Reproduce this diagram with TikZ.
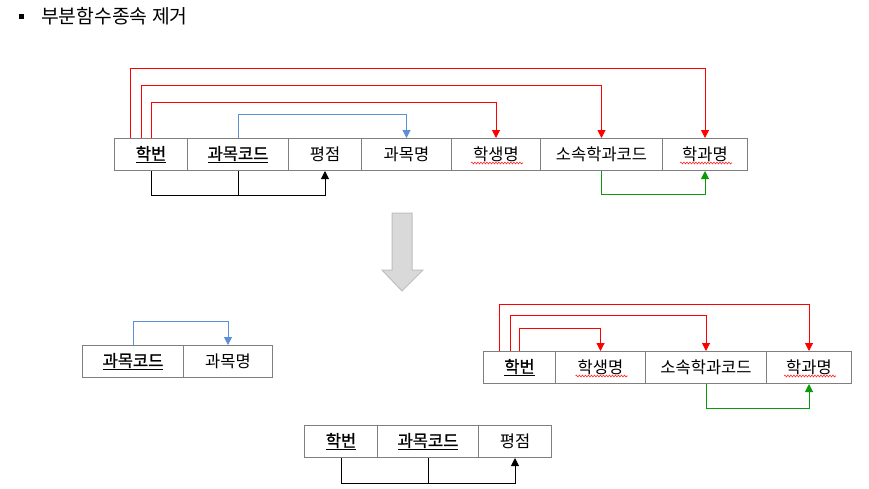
\documentclass[tikz,border=0pt]{standalone}
\usepackage{fontspec}
\setmainfont{Noto Sans CJK KR}
\newfontfamily\keyfont[FakeBold=1.3]{Noto Sans CJK KR}
\usetikzlibrary{arrows.meta,calc,decorations.pathmorphing}
\definecolor{cellgray}{HTML}{7F7F7F}
\definecolor{bluel}{HTML}{5B8FD6}
\definecolor{greenl}{HTML}{0A9A0A}
\definecolor{arrowfill}{HTML}{D9D9D9}
\definecolor{arrowdraw}{HTML}{BFBFBF}
\tikzset{
  cell/.style={draw=cellgray, line width=1pt, inner sep=0pt, anchor=north west,
    minimum height=32pt, font=\fontsize{16.5}{19}\selectfont, text=black},
  tip/.style={-{Triangle[width=8pt,length=8pt]}},
  redln/.style={draw=red, line width=1pt, tip},
  blueln/.style={draw=bluel, line width=1pt, tip},
  greenln/.style={draw=greenl, line width=1pt, tip},
  blackln/.style={draw=black, line width=1pt},
  wavy/.style={draw=red!85!white, line width=0.6pt, decorate,
    decoration={snake, amplitude=0.9pt, segment length=3pt}},
}
\newcommand{\keyu}[1]{\underline{\keyfont #1}}
\begin{document}
\begin{tikzpicture}[x=1pt,y=-1pt]
\useasboundingbox (0,0) rectangle (869,488);
% title
\fill[black] (19,14) rectangle (24,19);
\node[anchor=west, inner sep=0pt, font=\fontsize{19.3}{23}\selectfont] (title) at (41,16.5) {부분함수종속 제거};

% top table
\node[cell, minimum width=73pt] (a1) at (114,138) {\keyu{학번}};
\node[cell, minimum width=101pt] (a2) at (187,138) {\keyu{과목코드}};
\node[cell, minimum width=73pt] (a3) at (288,138) {평점};
\node[cell, minimum width=90pt] (a4) at (361,138) {과목명};
\node[cell, minimum width=89pt] (a5) at (451,138) {학생명};
\node[cell, minimum width=122pt] (a6) at (540,138) {소속학과코드};
\node[cell, minimum width=85pt] (a7) at (662,138) {학과명};

\draw[redln] ([xshift=-20.5pt]a1.north) -- ++(0,-70) -| (a7.north);
\draw[redln] ([xshift=-9.5pt]a1.north) -- ++(0,-53) -| (a6.north);
\draw[redln] ([xshift=0.5pt]a1.north) -- ++(0,-36) -| (a5.north);
\draw[blueln] (a2.north) -- ++(0,-24) -| (a4.north);
\draw[blackln] (a2.south) -- ++(0,24);
\draw[blackln, tip] (a1.south) -- ++(0,24) -| (a3.south);
\draw[greenln] (a6.south) -- ++(0,23) -| (a7.south);
\draw[wavy] ($(a5.center)+(-25,8.5)$) -- ++(52,0);
\draw[wavy] ($(a7.center)+(-25,8.5)$) -- ++(52,0);

% big gray arrow
\draw[fill=arrowfill, draw=arrowdraw, line width=1pt]
  (392,213) -- (412,213) -- (412,270) -- (423,270) -- (402,291) -- (382,270) -- (392,270) -- cycle;

% left middle table
\node[cell, minimum width=101pt] (c1) at (82,345) {\keyu{과목코드}};
\node[cell, minimum width=89pt] (c2) at (183,345) {과목명};
\draw[blueln] (c1.north) -- ++(0,-24) -| (c2.north);

% right table
\node[cell, minimum width=72pt] (b1) at (483,351) {\keyu{학번}};
\node[cell, minimum width=90pt] (b2) at (555,351) {학생명};
\node[cell, minimum width=121pt] (b3) at (645,351) {소속학과코드};
\node[cell, minimum width=85pt] (b4) at (766,351) {학과명};
\draw[redln] ([xshift=-20pt]b1.north) -- ++(0,-47) -| (b4.north);
\draw[redln] ([xshift=-9pt]b1.north) -- ++(0,-36) -| (b3.north);
\draw[redln] (b1.north) -- ++(0,-23) -| (b2.north);
\draw[greenln] (b3.south) -- ++(0,24) -| (b4.south);
\draw[wavy] ($(b2.center)+(-25,8.5)$) -- ++(52,0);
\draw[wavy] ($(b4.center)+(-25,8.5)$) -- ++(52,0);

% bottom table
\node[cell, minimum width=73pt] (d1) at (304,425) {\keyu{학번}};
\node[cell, minimum width=101pt] (d2) at (377,425) {\keyu{과목코드}};
\node[cell, minimum width=73pt] (d3) at (478,425) {평점};
\draw[blackln] (d2.south) -- ++(0,25);
\draw[blackln, tip] (d1.south) -- ++(0,25) -| (d3.south);
\end{tikzpicture}
\end{document}
